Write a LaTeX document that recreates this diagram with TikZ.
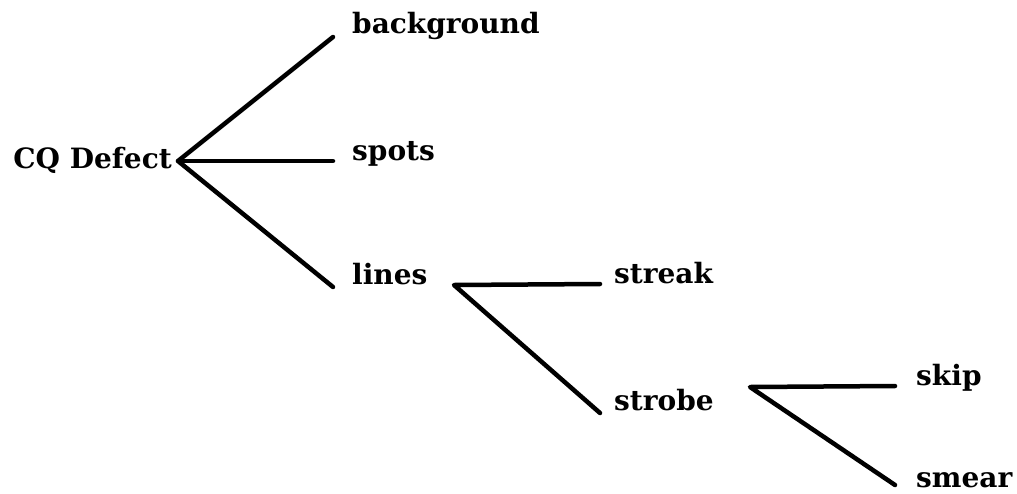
\documentclass[tikz,border=0pt]{standalone}
\usepackage{fontspec}
\setmainfont{DejaVu Serif}
\begin{document}
\begin{tikzpicture}[x=1pt,y=-1pt,
  lbl/.style={inner sep=0pt,font=\fontsize{28}{34}\selectfont\bfseries},
  branch/.style={line width=4.5pt,line cap=round,line join=round}]
\useasboundingbox (0,0) rectangle (1017,493);
% fork points and branch ends
\coordinate (f0) at (178,161);
\coordinate (f1) at (454,285);
\coordinate (f2) at (750,387);
\coordinate (eBg) at (333,37);
\coordinate (eSp) at (333,161);
\coordinate (eLi) at (333,287);
\coordinate (eSt) at (600,284);
\coordinate (eSb) at (600,413);
\coordinate (eSk) at (895,386);
\coordinate (eSm) at (895,485);
% labels
\node[lbl,anchor=base east] (cq) at (172,168) {CQ Defect};
\node[lbl,anchor=base west] (bg) at (352,33) {background};
\node[lbl,anchor=base west] (sp) at (352,160) {spots};
\node[lbl,anchor=base west] (li) at (352,284) {lines};
\node[lbl,anchor=base west] (st) at (614,283) {streak};
\node[lbl,anchor=base west] (sb) at (614,410) {strobe};
\node[lbl,anchor=base west] (sk) at (916,385) {skip};
\node[lbl,anchor=base west] (sm) at (916,487) {smear};
% tree branches
\draw[branch] (eBg) -- (f0) -- (eLi);
\draw[branch] (f0) -- (eSp);
\draw[branch] (eSt) -- (f1) -- (eSb);
\draw[branch] (eSk) -- (f2) -- (eSm);
\end{tikzpicture}
\end{document}
